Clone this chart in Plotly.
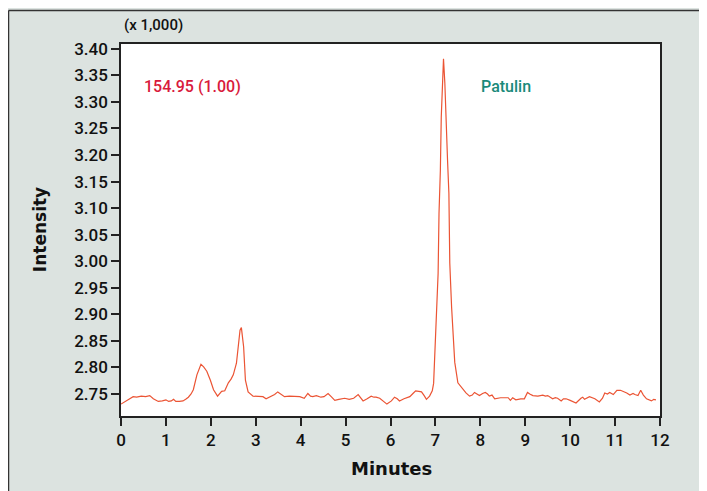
import plotly.graph_objects as go

# Retention time (minutes) and intensity (x 1,000)
minutes = [
    0.00, 0.12, 0.20, 0.27, 0.35, 0.45, 0.55, 0.64, 0.72, 0.83, 0.92, 1.00, 1.06, 1.12, 1.17, 1.22,
    1.30, 1.38, 1.44, 1.50, 1.56, 1.61, 1.69, 1.75, 1.78, 1.84, 1.91, 1.99, 2.06, 2.15, 2.24, 2.31,
    2.39, 2.45, 2.50, 2.57, 2.62, 2.65, 2.68, 2.73, 2.77, 2.83, 2.94, 3.05, 3.16, 3.23, 3.32, 3.42,
    3.49, 3.56, 3.64, 3.75, 3.90, 3.98, 4.08, 4.16, 4.22, 4.27, 4.35, 4.45, 4.52, 4.61, 4.68, 4.76,
    4.85, 4.98, 5.08, 5.18, 5.28, 5.33, 5.39, 5.48, 5.57, 5.63, 5.68, 5.76, 5.84, 5.92, 6.02, 6.09,
    6.15, 6.20, 6.30, 6.43, 6.50, 6.56, 6.63, 6.69, 6.75, 6.80, 6.87, 6.93, 6.96, 7.00, 7.06, 7.08,
    7.11, 7.13, 7.16, 7.18, 7.21, 7.24, 7.27, 7.30, 7.32, 7.36, 7.39, 7.43, 7.50, 7.61, 7.68, 7.76,
    7.82, 7.87, 7.93, 7.98, 8.05, 8.11, 8.16, 8.20, 8.26, 8.32, 8.45, 8.57, 8.62, 8.67, 8.72, 8.79,
    8.90, 8.98, 9.05, 9.10, 9.17, 9.28, 9.39, 9.45, 9.50, 9.61, 9.67, 9.72, 9.80, 9.85, 9.91, 10.00,
    10.13, 10.24, 10.28, 10.32, 10.43, 10.55, 10.65, 10.72, 10.77, 10.83, 10.88, 10.96, 11.04, 11.12,
    11.18, 11.26, 11.33, 11.40, 11.44, 11.51, 11.57, 11.63, 11.70, 11.76, 11.81, 11.86, 11.91,
]
intensity = [
    2.731, 2.737, 2.742, 2.745, 2.744, 2.746, 2.745, 2.747, 2.741, 2.736, 2.737, 2.739, 2.736, 2.737, 2.740, 2.736,
    2.736, 2.737, 2.740, 2.744, 2.750, 2.758, 2.786, 2.802, 2.806, 2.801, 2.793, 2.776, 2.758, 2.746, 2.755, 2.756,
    2.771, 2.778, 2.786, 2.808, 2.845, 2.870, 2.875, 2.839, 2.776, 2.754, 2.746, 2.745, 2.745, 2.741, 2.745, 2.749,
    2.754, 2.750, 2.745, 2.746, 2.746, 2.745, 2.742, 2.751, 2.746, 2.745, 2.747, 2.744, 2.745, 2.751, 2.745, 2.738,
    2.740, 2.742, 2.740, 2.742, 2.749, 2.743, 2.737, 2.741, 2.746, 2.744, 2.744, 2.742, 2.736, 2.731, 2.737, 2.744,
    2.741, 2.737, 2.741, 2.745, 2.751, 2.756, 2.755, 2.754, 2.747, 2.740, 2.746, 2.756, 2.770, 2.865, 2.977, 3.090,
    3.171, 3.271, 3.359, 3.381, 3.335, 3.278, 3.190, 3.128, 2.996, 2.914, 2.857, 2.810, 2.771, 2.758, 2.752, 2.746,
    2.748, 2.753, 2.749, 2.747, 2.751, 2.753, 2.750, 2.746, 2.748, 2.741, 2.743, 2.742, 2.743, 2.738, 2.743, 2.739,
    2.741, 2.741, 2.753, 2.750, 2.747, 2.746, 2.748, 2.746, 2.747, 2.741, 2.743, 2.742, 2.737, 2.741, 2.741, 2.738,
    2.733, 2.742, 2.744, 2.740, 2.745, 2.741, 2.735, 2.742, 2.752, 2.750, 2.753, 2.749, 2.757, 2.757,
    2.755, 2.752, 2.748, 2.751, 2.749, 2.747, 2.757, 2.748, 2.741, 2.738, 2.737, 2.740, 2.739,
]

x_ticks = list(range(0, 13))
y_ticks = [2.75, 2.80, 2.85, 2.90, 2.95, 3.00, 3.05, 3.10, 3.15, 3.20, 3.25, 3.30, 3.35, 3.40]
y_tick_labels = [f"{v:.2f}" for v in y_ticks]

FONT = "Roboto"
TITLE_FONT = "DejaVu Sans"
BG = "#dce3e0"

fig = go.Figure()
fig.add_trace(go.Scatter(
    x=minutes, y=intensity, mode="lines",
    line=dict(color="#eb5434", width=1.2),
    hoverinfo="skip", showlegend=False,
))

axis_common = dict(
    showgrid=False, zeroline=False, showline=True, mirror=True,
    linecolor="#222222", linewidth=1.5,
    ticks="outside", ticklen=8, tickwidth=1.5, tickcolor="#222222",
    tickfont=dict(family=FONT, size=17, color="#111111", weight=500),
    automargin=False,
)

fig.update_xaxes(range=[0, 12], tickvals=x_ticks, ticktext=[str(t) for t in x_ticks], **axis_common)
fig.update_yaxes(range=[2.7086, 3.409], tickvals=y_ticks, ticktext=y_tick_labels, **axis_common)

frame_line = dict(color="#333333", width=1.5)
fig.update_layout(
    width=699, height=483,
    margin=dict(l=113, r=47, t=36, b=75),
    paper_bgcolor=BG, plot_bgcolor="white",
    shapes=[
        dict(type="line", xref="paper", yref="paper", x0=-0.2087, x1=-0.2087, y0=-0.3, y1=1.090,
             line=frame_line, layer="below"),
        dict(type="line", xref="paper", yref="paper", x0=-0.2087, x1=1.2, y0=1.090, y1=1.090,
             line=frame_line, layer="below"),
    ],
    annotations=[
        dict(text="(x 1,000)", xref="paper", yref="paper", x=0.0594, y=1.051,
             xanchor="center", yanchor="middle",
             showarrow=False, font=dict(family=FONT, size=15, color="#111111", weight=500)),
        dict(text="154.95 (1.00)", xref="x", yref="y", x=1.6, y=3.329,
             xanchor="center", yanchor="middle",
             showarrow=False, font=dict(family=FONT, size=16, color="#d91a3c", weight=500)),
        dict(text="Patulin", xref="x", yref="y", x=8.57, y=3.329,
             xanchor="center", yanchor="middle",
             showarrow=False, font=dict(family=FONT, size=16, color="#1a8a7a", weight=500)),
        dict(text="Intensity", xref="paper", yref="paper", x=-0.150, y=0.5, textangle=-90,
             xanchor="center", yanchor="middle",
             showarrow=False, font=dict(family=TITLE_FONT, size=17, color="#111111", weight=700)),
        dict(text="Minutes", xref="paper", yref="paper", x=0.501, y=-0.14,
             xanchor="center", yanchor="middle",
             showarrow=False, font=dict(family=TITLE_FONT, size=18, color="#111111", weight=700)),
    ],
)

fig.write_html(
    "out.html",
    post_script="document.documentElement.style.overflow='hidden';document.body.style.overflow='hidden';",
)
